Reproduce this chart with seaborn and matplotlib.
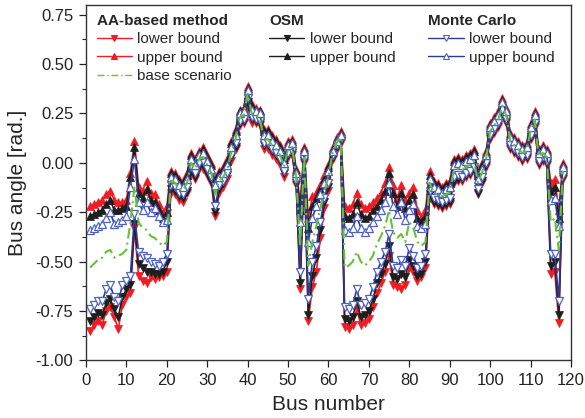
import matplotlib
matplotlib.use("Agg")
import matplotlib.pyplot as plt
from matplotlib.lines import Line2D
from matplotlib.ticker import MultipleLocator, FormatStrFormatter
import pandas as pd
import seaborn as sns

# Bus numbers of the 118-bus test system
bus = list(range(1, 119))

# AA-based method bounds [rad]
aa_hi = [-0.22, -0.21, -0.20, -0.19, -0.16, -0.14, -0.19, -0.20, -0.20, -0.19,
         -0.05, 0.11, -0.12, -0.14, -0.09, -0.15, -0.16, -0.21, -0.25, -0.22,
         -0.04, -0.05, -0.08, -0.09, -0.05, 0.05, 0.02, 0.06, 0.08, 0.04,
         0.00, -0.07, -0.04, -0.02, 0.02, 0.11, 0.17, 0.27, 0.28, 0.39,
         0.30, 0.28, 0.27, 0.17, 0.17, 0.14, 0.12, 0.09, 0.03, 0.11,
         0.12, -0.03, -0.20, 0.08, -0.28, -0.17, -0.15, -0.11, -0.06, -0.01,
         0.08, 0.13, 0.16, -0.22, -0.23, -0.21, -0.15, -0.21, -0.23, -0.22,
         -0.20, -0.18, -0.15, -0.10, -0.02, -0.11, -0.18, -0.11, -0.19, -0.15,
         -0.12, -0.24, -0.28, -0.24, -0.04, -0.09, -0.10, -0.12, -0.10, -0.09,
         0.02, 0.03, 0.02, 0.04, 0.05, 0.07, -0.05, 0.00, 0.06, 0.20,
         0.23, 0.26, 0.33, 0.28, 0.15, 0.13, 0.11, 0.09, 0.10, 0.20,
         0.26, 0.07, 0.09, 0.07, -0.10, -0.08, -0.24, 0.00]
aa_lo = [-0.85, -0.82, -0.80, -0.82, -0.75, -0.73, -0.78, -0.84, -0.72, -0.68,
         -0.66, -0.33, -0.57, -0.60, -0.61, -0.58, -0.59, -0.58, -0.57, -0.55,
         -0.15, -0.16, -0.19, -0.20, -0.15, -0.06, -0.08, -0.03, -0.03, -0.06,
         -0.10, -0.27, -0.15, -0.12, -0.08, 0.01, 0.07, 0.19, 0.20, 0.29,
         0.20, 0.20, 0.19, 0.07, 0.07, 0.04, 0.02, -0.01, -0.07, 0.03,
         0.04, -0.11, -0.64, 0.00, -0.80, -0.63, -0.55, -0.38, -0.23, -0.14,
         0.02, 0.07, 0.10, -0.83, -0.84, -0.82, -0.74, -0.82, -0.81, -0.79,
         -0.73, -0.66, -0.61, -0.55, -0.47, -0.62, -0.63, -0.64, -0.62, -0.53,
         -0.55, -0.60, -0.58, -0.53, -0.18, -0.21, -0.22, -0.23, -0.22, -0.21,
         -0.10, -0.09, -0.09, -0.07, -0.06, -0.04, -0.16, -0.10, -0.02, 0.12,
         0.15, 0.18, 0.25, 0.20, 0.07, 0.05, 0.03, 0.01, 0.02, 0.12,
         0.18, -0.01, 0.01, -0.01, -0.56, -0.55, -0.81, -0.08]

# OSM bounds [rad]
osm_hi = [-0.27, -0.26, -0.25, -0.24, -0.21, -0.19, -0.24, -0.24, -0.23, -0.22,
          -0.07, 0.08, -0.15, -0.18, -0.13, -0.19, -0.20, -0.24, -0.28, -0.25,
          -0.05, -0.06, -0.09, -0.10, -0.06, 0.04, 0.01, 0.05, 0.07, 0.03,
          -0.01, -0.09, -0.05, -0.03, 0.01, 0.10, 0.16, 0.26, 0.27, 0.38,
          0.29, 0.27, 0.26, 0.16, 0.16, 0.13, 0.11, 0.08, 0.02, 0.10,
          0.11, -0.04, -0.24, 0.07, -0.33, -0.22, -0.18, -0.13, -0.08, -0.02,
          0.07, 0.12, 0.15, -0.27, -0.28, -0.26, -0.20, -0.26, -0.28, -0.27,
          -0.24, -0.22, -0.19, -0.14, -0.05, -0.15, -0.22, -0.15, -0.23, -0.19,
          -0.16, -0.28, -0.30, -0.27, -0.06, -0.10, -0.11, -0.13, -0.11, -0.10,
          0.01, 0.02, 0.01, 0.03, 0.04, 0.06, -0.06, -0.01, 0.05, 0.19,
          0.22, 0.25, 0.32, 0.27, 0.14, 0.12, 0.10, 0.08, 0.09, 0.19,
          0.25, 0.06, 0.08, 0.06, -0.14, -0.12, -0.28, -0.01]
osm_lo = [-0.80, -0.78, -0.76, -0.77, -0.71, -0.69, -0.74, -0.78, -0.68, -0.64,
          -0.62, -0.31, -0.51, -0.53, -0.55, -0.55, -0.56, -0.56, -0.55, -0.50,
          -0.13, -0.14, -0.17, -0.18, -0.14, -0.04, -0.07, -0.02, -0.01, -0.05,
          -0.09, -0.25, -0.13, -0.10, -0.06, 0.03, 0.08, 0.20, 0.21, 0.31,
          0.22, 0.21, 0.20, 0.09, 0.09, 0.06, 0.04, 0.01, -0.05, 0.04,
          0.05, -0.10, -0.61, 0.01, -0.77, -0.57, -0.48, -0.34, -0.20, -0.12,
          0.03, 0.08, 0.11, -0.79, -0.80, -0.78, -0.70, -0.78, -0.77, -0.75,
          -0.69, -0.61, -0.56, -0.51, -0.42, -0.58, -0.59, -0.56, -0.58, -0.49,
          -0.52, -0.57, -0.56, -0.50, -0.16, -0.20, -0.21, -0.22, -0.21, -0.20,
          -0.09, -0.08, -0.08, -0.06, -0.05, -0.03, -0.15, -0.09, -0.01, 0.13,
          0.16, 0.19, 0.26, 0.21, 0.08, 0.06, 0.04, 0.02, 0.03, 0.13,
          0.19, 0.00, 0.02, 0.00, -0.52, -0.50, -0.77, -0.07]

# Monte Carlo bounds [rad]
mc_hi = [-0.34, -0.33, -0.32, -0.31, -0.28, -0.25, -0.31, -0.30, -0.29, -0.27,
         -0.12, 0.02, -0.20, -0.24, -0.20, -0.25, -0.23, -0.27, -0.30, -0.29,
         -0.07, -0.08, -0.11, -0.12, -0.08, 0.02, -0.01, 0.04, 0.05, 0.01,
         -0.03, -0.11, -0.07, -0.05, -0.01, 0.08, 0.14, 0.25, 0.26, 0.37,
         0.27, 0.26, 0.25, 0.14, 0.14, 0.11, 0.09, 0.06, 0.00, 0.09,
         0.10, -0.05, -0.30, 0.06, -0.40, -0.28, -0.22, -0.16, -0.10, -0.04,
         0.06, 0.11, 0.14, -0.34, -0.35, -0.33, -0.27, -0.33, -0.35, -0.33,
         -0.30, -0.27, -0.24, -0.20, -0.10, -0.22, -0.26, -0.20, -0.29, -0.24,
         -0.21, -0.32, -0.33, -0.31, -0.08, -0.12, -0.13, -0.15, -0.13, -0.12,
         -0.01, 0.00, -0.01, 0.01, 0.02, 0.04, -0.08, -0.03, 0.04, 0.18,
         0.21, 0.24, 0.31, 0.26, 0.13, 0.11, 0.09, 0.07, 0.08, 0.18,
         0.24, 0.05, 0.07, 0.05, -0.19, -0.18, -0.32, -0.02]
mc_lo = [-0.74, -0.72, -0.70, -0.70, -0.64, -0.62, -0.68, -0.70, -0.62, -0.60,
         -0.57, -0.26, -0.45, -0.47, -0.48, -0.50, -0.51, -0.52, -0.50, -0.46,
         -0.11, -0.12, -0.15, -0.16, -0.12, -0.02, -0.05, 0.00, 0.01, -0.03,
         -0.07, -0.22, -0.11, -0.09, -0.05, 0.04, 0.10, 0.21, 0.22, 0.33,
         0.23, 0.22, 0.21, 0.10, 0.10, 0.07, 0.05, 0.02, -0.04, 0.05,
         0.06, -0.09, -0.55, 0.02, -0.69, -0.50, -0.42, -0.30, -0.18, -0.10,
         0.04, 0.09, 0.12, -0.73, -0.74, -0.72, -0.64, -0.72, -0.71, -0.69,
         -0.63, -0.55, -0.50, -0.45, -0.36, -0.52, -0.53, -0.49, -0.52, -0.43,
         -0.47, -0.53, -0.52, -0.46, -0.14, -0.18, -0.19, -0.20, -0.19, -0.18,
         -0.07, -0.06, -0.07, -0.05, -0.04, -0.02, -0.13, -0.07, 0.00, 0.14,
         0.17, 0.20, 0.27, 0.22, 0.09, 0.07, 0.05, 0.03, 0.04, 0.14,
         0.20, 0.01, 0.03, 0.01, -0.46, -0.46, -0.70, -0.06]

# Base scenario [rad]
base = [-0.53, -0.51, -0.49, -0.48, -0.45, -0.44, -0.48, -0.47, -0.46, -0.44,
        -0.30, -0.12, -0.30, -0.33, -0.34, -0.37, -0.38, -0.40, -0.42, -0.40,
        -0.09, -0.10, -0.13, -0.14, -0.10, 0.00, -0.03, 0.02, 0.03, -0.01,
        -0.05, -0.16, -0.09, -0.07, -0.03, 0.06, 0.12, 0.23, 0.24, 0.35,
        0.25, 0.24, 0.23, 0.12, 0.12, 0.09, 0.07, 0.04, -0.02, 0.07,
        0.08, -0.07, -0.42, 0.04, -0.52, -0.40, -0.32, -0.23, -0.14, -0.07,
        0.05, 0.10, 0.13, -0.53, -0.52, -0.50, -0.45, -0.50, -0.52, -0.50,
        -0.47, -0.41, -0.37, -0.32, -0.24, -0.35, -0.38, -0.36, -0.40, -0.30,
        -0.33, -0.40, -0.42, -0.40, -0.10, -0.15, -0.16, -0.17, -0.16, -0.15,
        -0.04, -0.03, -0.04, -0.02, -0.01, 0.01, -0.10, -0.05, 0.02, 0.16,
        0.19, 0.22, 0.29, 0.24, 0.11, 0.09, 0.07, 0.05, 0.06, 0.16,
        0.22, 0.03, 0.05, 0.03, -0.30, -0.28, -0.44, -0.04]

df = pd.DataFrame({"bus": bus, "aa_hi": aa_hi, "aa_lo": aa_lo,
                   "osm_hi": osm_hi, "osm_lo": osm_lo,
                   "mc_hi": mc_hi, "mc_lo": mc_lo, "base": base})

RED = "#EE1C25"
BLACK = "#1E1E1E"
BLUE = "#2A3A96"
BLUE_MK = "#4F61C2"
GREEN = "#66C233"
DASHDOT = (0, (5, 2, 1, 2))

sns.set_style("ticks")
plt.rcParams["font.family"] = ["Liberation Sans", "DejaVu Sans"]
plt.rcParams["axes.unicode_minus"] = False

fig = plt.figure(figsize=(5.85, 4.18), dpi=100)
ax = fig.add_axes([0.147, 0.1376, 0.829, 0.851])

ms = 6
common = dict(ax=ax, legend=False, estimator=None, linewidth=1.2)

sns.lineplot(data=df, x="bus", y="aa_lo", color=RED, marker="v", markersize=ms,
             markeredgecolor=RED, markeredgewidth=0.5, **common)
sns.lineplot(data=df, x="bus", y="aa_hi", color=RED, marker="^", markersize=ms,
             markeredgecolor=RED, markeredgewidth=0.5, **common)
sns.lineplot(data=df, x="bus", y="osm_lo", color=BLACK, marker="v", markersize=ms,
             markeredgecolor=BLACK, markeredgewidth=0.5, **common)
sns.lineplot(data=df, x="bus", y="osm_hi", color=BLACK, marker="^", markersize=ms,
             markeredgecolor=BLACK, markeredgewidth=0.5, **common)
sns.lineplot(data=df, x="bus", y="mc_lo", color=BLUE, marker="v", markersize=ms,
             markerfacecolor="white", markeredgecolor=BLUE_MK, markeredgewidth=0.9,
             **common)
sns.lineplot(data=df, x="bus", y="mc_hi", color=BLUE, marker="^", markersize=ms,
             markerfacecolor="white", markeredgecolor=BLUE_MK, markeredgewidth=0.9,
             **common)
sns.lineplot(data=df, x="bus", y="base", color=GREEN, linestyle=DASHDOT,
             ax=ax, legend=False, estimator=None, linewidth=1.5)

ax.set_xlim(0, 120)
ax.set_ylim(-1.0, 0.80)
ax.xaxis.set_major_locator(MultipleLocator(10))
ax.yaxis.set_major_locator(MultipleLocator(0.25))
ax.yaxis.set_minor_locator(MultipleLocator(0.125))
ax.yaxis.set_major_formatter(FormatStrFormatter("%.2f"))
ax.tick_params(axis="both", which="major", direction="out", length=5, width=0.9,
               pad=4, labelsize=12, colors="#222222")
ax.tick_params(axis="y", which="minor", direction="out", length=3, width=0.8)
for s in ax.spines.values():
    s.set_visible(True)
    s.set_linewidth(1.0)
    s.set_color("#333333")

ax.set_xlabel("Bus number", fontsize=15, labelpad=5)
ax.set_ylabel("Bus angle [rad.]", fontsize=15, labelpad=6)


def handle(color, marker, face=None, edge=None, ls="-"):
    return Line2D([], [], color=color, marker=marker, markersize=4.5, lw=1.0,
                  linestyle=ls, markerfacecolor=face or color,
                  markeredgecolor=edge or color, markeredgewidth=0.8)


leg_kw = dict(loc="upper left", frameon=False, fontsize=11, handlelength=2.3,
              handletextpad=0.35, labelspacing=0.3, borderpad=0, borderaxespad=0,
              alignment="left",
              title_fontproperties={"weight": "bold", "size": 11})

leg1 = ax.legend(handles=[handle(RED, "v"), handle(RED, "^"),
                          handle(GREEN, None, ls=DASHDOT)],
                 labels=["lower bound", "upper bound", "base scenario"],
                 title="AA-based method", bbox_to_anchor=(0.022, 0.975), **leg_kw)
ax.add_artist(leg1)
leg2 = ax.legend(handles=[handle(BLACK, "v"), handle(BLACK, "^")],
                 labels=["lower bound", "upper bound"],
                 title="OSM", bbox_to_anchor=(0.378, 0.975), **leg_kw)
ax.add_artist(leg2)
ax.legend(handles=[handle(BLUE, "v", "white", BLUE_MK),
                   handle(BLUE, "^", "white", BLUE_MK)],
          labels=["lower bound", "upper bound"],
          title="Monte Carlo", bbox_to_anchor=(0.706, 0.975), **leg_kw)

fig.savefig("out.png", dpi=100)
